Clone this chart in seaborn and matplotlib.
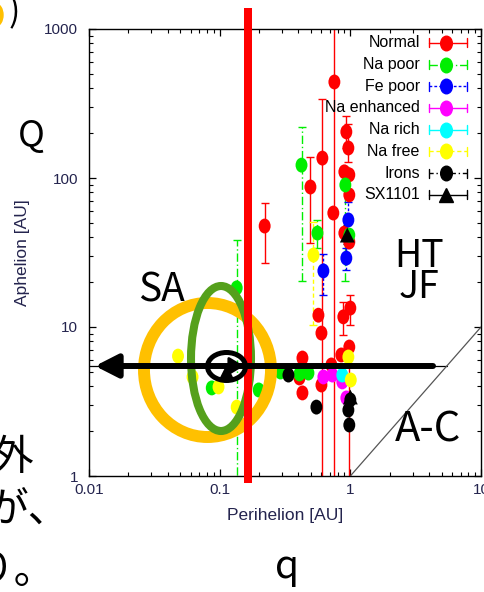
import numpy as np
import pandas as pd
import matplotlib
matplotlib.use("Agg")
import matplotlib.pyplot as plt
import seaborn as sns
from matplotlib.patches import Ellipse, Rectangle
from matplotlib.path import Path
from matplotlib.transforms import Affine2D


# 近日点 q, 遠日点 Q, 誤差棒の下端・上端 [AU]
normal_q = [0.755, 0.611, 0.495, 0.221, 0.741, 0.932, 0.966, 0.900, 0.982, 0.982, 0.900, 0.982,
            0.570, 0.601, 0.884, 1.000, 0.430, 0.408, 0.430, 0.716, 0.853, 0.982, 0.601]
normal_Q = [441, 136, 87, 47.6, 58.2, 204, 159, 110, 105, 77, 42.7, 37.2,
            12.0, 9.1, 11.7, 13.4, 6.19, 4.55, 3.61, 5.56, 6.49, 7.34, 4.08]
normal_lo = [0.5, 0.5, 36.6, 26.9, 58.2, 160, 128, 110, 105, 77, 42.7, 37.2,
             12.0, 9.1, 8.84, 10.3, 6.19, 4.55, 3.61, 5.56, 6.49, 0.5, 4.08]
normal_hi = [2000, 339, 138, 68, 58.2, 260, 230, 110, 105, 77, 42.7, 37.2,
             12.0, 9.1, 14.7, 16.4, 6.19, 4.55, 3.61, 5.56, 6.49, 7.34, 4.08]

napoor_q = [0.135, 0.423, 0.560, 0.916, 0.982, 0.292, 0.408, 0.478, 0.199, 0.087]
napoor_Q = [18.3, 122, 42.7, 89.8, 41.4, 4.99, 4.84, 4.91, 3.78, 3.90]
napoor_lo = [0.5, 20.4, 33.9, 20.4, 41.4, 4.99, 4.84, 4.91, 3.78, 3.90]
napoor_hi = [38.4, 220, 52.3, 119, 41.4, 4.99, 4.84, 4.91, 3.78, 3.90]

fepoor_q = [0.966, 0.932, 0.622]
fepoor_Q = [52.3, 29.0, 23.8]
fepoor_lo = [41.4, 24.1, 16.4]
fepoor_hi = [69.0, 33.9, 30.9]

naenh_q = [0.622, 0.729, 0.868, 0.932]
naenh_Q = [4.62, 4.76, 4.28, 3.34]

narich_q = [0.868]
narich_Q = [4.76]

nafree_q = [0.522, 0.048, 0.062, 0.098, 0.135, 0.966, 1.008]
nafree_Q = [30.4, 6.38, 4.62, 3.96, 2.90, 6.29, 4.41]
nafree_lo = [10.3, 6.38, 4.62, 3.96, 2.90, 6.29, 4.41]
nafree_hi = [50.7, 6.38, 4.62, 3.96, 2.90, 6.29, 4.41]

irons_q = [0.336, 0.550, 1.000, 0.966, 0.982]
irons_Q = [4.76, 2.90, 3.24, 2.77, 2.20]

sx_q = [0.948, 1.000, 0.113]
sx_Q = [41.4, 3.39, 5.0]
sx_lo = [36.0, 3.39, 5.0]
sx_hi = [48.0, 3.39, 5.0]

jupiter_Q = 5.45
diag_q = [1, 10]

x_ticks = [0.01, 0.1, 1, 10]
x_labels = ["0.01", "0.1", "1", "10"]
y_ticks = [1, 10, 100, 1000]
y_labels = ["1", "10", "100", "1000"]

groups = ["Normal", "Na poor", "Fe poor", "Na enhanced", "Na rich", "Na free", "Irons", "SX1101"]
colors = ["#ff0000", "#00ee00", "#0000ff", "#ff00ff", "#00ffff", "#ffff00", "#000000", "#000000"]
styles = ["-", (0, (6, 2, 1, 2)), (0, (2, 1.5)), "-", "-", (0, (3, 2)), (0, (3, 2, 1, 2)), "-"]

sns.set_style("ticks")
plt.rcParams["font.family"] = ["Liberation Sans Narrow", "Liberation Sans", "DejaVu Sans"]
cjk = ["Noto Sans CJK JP", "DejaVu Sans"]
ink = "#24244e"

# 縦長の楕円マーカー (gnuplot の画像が縦に伸びているため)
ell = Path.unit_circle().transformed(Affine2D().scale(0.8, 1.0))

fig = plt.figure(figsize=(4.85, 5.92), dpi=100)
ax = fig.add_axes([89 / 485, 1 - 476 / 592, 392 / 485, 447 / 592])

err_sets = [
    (normal_q, normal_Q, normal_lo, normal_hi),
    (napoor_q, napoor_Q, napoor_lo, napoor_hi),
    (fepoor_q, fepoor_Q, fepoor_lo, fepoor_hi),
    (naenh_q, naenh_Q, naenh_Q, naenh_Q),
    (narich_q, narich_Q, narich_Q, narich_Q),
    (nafree_q, nafree_Q, nafree_lo, nafree_hi),
    (irons_q, irons_Q, irons_Q, irons_Q),
    (sx_q, sx_Q, sx_lo, sx_hi),
]

frames = []
for g, (q, Q, lo, hi) in zip(groups, err_sets):
    q, Q, lo, hi = map(np.asarray, (q, Q, lo, hi))
    keep = (hi - lo) > 0
    if keep.any():
        eb = ax.errorbar(q[keep], Q[keep], yerr=[Q[keep] - lo[keep], hi[keep] - Q[keep]],
                         fmt="none", ecolor=colors[groups.index(g)], elinewidth=1.0,
                         capsize=3, capthick=1.0, zorder=2)
        eb[2][0].set_linestyle(styles[groups.index(g)])
    frames.append(pd.DataFrame({"q": q, "Q": Q, "group": g}))
df = pd.concat(frames, ignore_index=True)

palette = dict(zip(groups, colors))
markers = {g: ell for g in groups}
markers["SX1101"] = "^"
sns.scatterplot(data=df, x="q", y="Q", hue="group", style="group", palette=palette,
                markers=markers, s=115, linewidth=0, legend=False, ax=ax, zorder=3)

ax.plot([0.01, jupiter_Q], [jupiter_Q, jupiter_Q], color="black", lw=0.9, zorder=1)
ax.plot(diag_q, diag_q, color="#555555", lw=0.9, zorder=1)

ax.set_xscale("log")
ax.set_yscale("log")
ax.set_xlim(0.01, 10)
ax.set_ylim(1, 1000)
ax.set_xticks(x_ticks, x_labels)
ax.set_yticks(y_ticks, y_labels)
ax.tick_params(which="both", direction="in", top=True, right=True, colors="black",
               labelcolor=ink, labelsize=11)
ax.tick_params(which="major", length=5, width=0.9)
ax.tick_params(which="minor", length=3, width=0.8)
ax.tick_params(axis="x", pad=5)
ax.tick_params(axis="y", pad=8)
ax.set_xlabel("Perihelion [AU]", fontsize=12.5, color=ink, labelpad=8)
ax.set_ylabel("Aphelion [AU]", fontsize=12.5, color=ink, labelpad=10)
for s in ax.spines.values():
    s.set_linewidth(1.0)
    s.set_color("black")

# 凡例 (gnuplot 風: 文字 右寄せ + 誤差棒つきの線)
leg_y = np.linspace(0.969, 0.629, len(groups))
for g, c, ls, yy in zip(groups, colors, styles, leg_y):
    ax.text(0.844, yy, g, transform=ax.transAxes, ha="right", va="center",
            fontsize=11.5, color="black", zorder=6)
    ax.plot([0.867, 0.964], [yy, yy], transform=ax.transAxes, color=c, ls=ls, lw=1.0,
            clip_on=False, zorder=6)
    for xc in (0.867, 0.964):
        ax.plot([xc, xc], [yy - 0.01, yy + 0.01], transform=ax.transAxes, color=c, lw=1.0,
                clip_on=False, zorder=6)
    ax.plot([0.911], [yy], transform=ax.transAxes, marker="^" if g == "SX1101" else ell,
            ms=10.5, color=c, ls="none", clip_on=False, zorder=7)

# スライド上の書き込み (ピクセル座標)
ov = fig.add_axes([0, 0, 1, 1], facecolor="none")
ov.set_xlim(0, 485)
ov.set_ylim(592, 0)
ov.axis("off")

ov.add_patch(Ellipse((207.5, 370), 127, 134, fill=False, ec="#ffc000", lw=8.6, zorder=1))
ov.add_patch(Ellipse((221, 358.5), 60, 145, fill=False, ec="#55a01c", lw=5.8, zorder=2))
ov.add_patch(Rectangle((244, 8), 8, 475, color="#ff0000", lw=0, zorder=3))
ov.add_patch(Ellipse((226.5, 366.5), 38, 28, fill=False, ec="black", lw=3.6, zorder=4))
ov.annotate("", xy=(95, 366), xytext=(433, 366), zorder=5,
            arrowprops=dict(arrowstyle="-|>,head_length=0.55,head_width=0.28",
                            mutation_scale=25, lw=4.3, color="black", shrinkA=0, shrinkB=0))
ov.annotate("", xy=(244, 366), xytext=(222, 366), zorder=5,
            arrowprops=dict(arrowstyle="-|>,head_length=0.5,head_width=0.3",
                            mutation_scale=18, lw=2, color="black", shrinkA=0, shrinkB=0))

big = dict(family=cjk, color="black", va="baseline", zorder=6)
ov.text(31, 146, "Q", ha="center", fontsize=26, **big)
ov.text(161, 302, "SA", ha="center", fontsize=28, **big)
ov.text(419, 298, "HT\nJF", ha="center", fontsize=27, linespacing=0.72,
        multialignment="center", **big)
ov.text(428, 442, "A-C", ha="center", fontsize=30, **big)
ov.text(287, 578, "q", ha="center", fontsize=28, **big)
ov.text(-8, 470, "外", ha="left", fontsize=30, **big)
ov.text(-14, 522, "が、", ha="left", fontsize=30, **big)
ov.text(-28, 583, "り。", ha="left", fontsize=30, **big)
ov.text(9, 22, ")", ha="left", fontsize=24, **big)
ov.add_patch(Ellipse((-4, 15), 14, 22, color="#ffc000", zorder=5))

fig.savefig("out.png", dpi=100)
